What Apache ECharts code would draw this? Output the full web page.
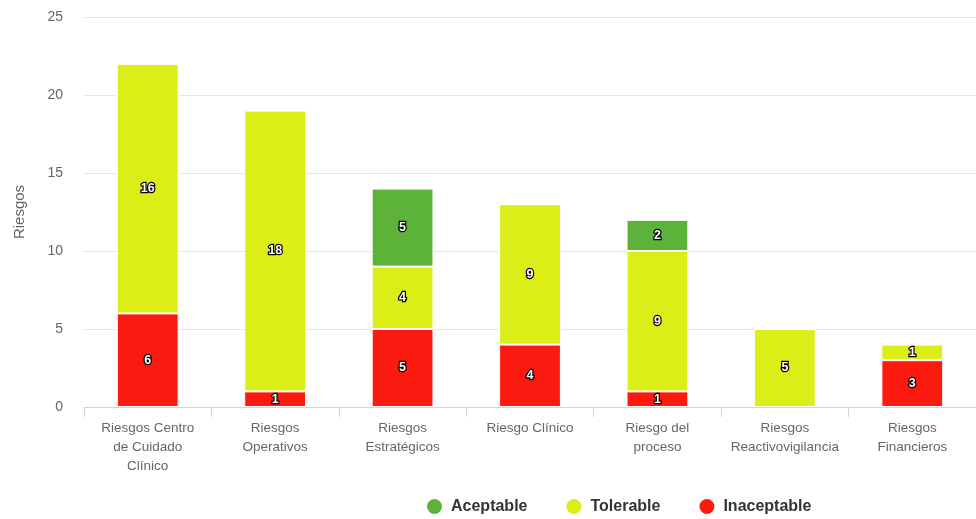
<!DOCTYPE html>
<html>
<head>
<meta charset="utf-8">
<script src="https://cdn.jsdelivr.net/npm/echarts@6/dist/echarts.min.js"></script>
<style>html,body{margin:0;padding:0;background:#fff}#c{width:976px;height:519px}</style>
</head>
<body>
<div id="c"></div>
<script>
var categories = [
  "Riesgos Centro\nde Cuidado\nClínico",
  "Riesgos\nOperativos",
  "Riesgos\nEstratégicos",
  "Riesgo Clínico",
  "Riesgo del\nproceso",
  "Riesgos\nReactivovigilancia",
  "Riesgos\nFinancieros"
];
var inaceptable = [6, 1, 5, 4, 1, null, 3];
var tolerable   = [16, 18, 4, 9, 9, 5, 1];
var aceptable   = [null, null, 5, null, 2, null, null];
var yTicks = { min: 0, max: 25, interval: 5 };

var FONT = '"Liberation Sans", Arial, Helvetica, sans-serif';
var labelStyle = {
  show: true, position: 'inside', color: '#fff', fontFamily: FONT,
  fontSize: 12.5, fontWeight: 'bold', textBorderColor: '#000', textBorderWidth: 2.5
};
function mk(name, data, color) {
  return {
    name: name, type: 'bar', stack: 'total', data: data, barWidth: '48.5%',
    itemStyle: { color: color, borderColor: '#fff', borderWidth: 1 },
    label: labelStyle
  };
}
var chart = echarts.init(document.getElementById('c'), null, { renderer: 'canvas' });
chart.setOption({
  animation: false,
  textStyle: { fontFamily: FONT },
  grid: { left: 84, right: 0, top: 17, bottom: 112, containLabel: false },
  legend: {
    data: ['Aceptable', 'Tolerable', 'Inaceptable'],
    left: 420, top: 492, icon: 'circle', itemWidth: 17, itemHeight: 17, itemGap: 37,
    textStyle: { fontSize: 16, fontWeight: 'bold', color: '#333', fontFamily: FONT, padding: [0, 0, 0, 3] }
  },
  xAxis: {
    type: 'category', data: categories,
    axisLine: { lineStyle: { color: '#ccd6eb' } },
    axisTick: { show: true, length: 10, lineStyle: { color: '#ccd6eb' } },
    axisLabel: { color: '#666', fontSize: 13.5, lineHeight: 19, margin: 12, interval: 0, fontFamily: FONT }
  },
  yAxis: {
    type: 'value', min: yTicks.min, max: yTicks.max, interval: yTicks.interval,
    name: 'Riesgos', nameLocation: 'middle', nameGap: 57, nameRotate: 90,
    nameTextStyle: { color: '#666', fontSize: 15, fontFamily: FONT },
    axisLabel: { color: '#666', fontSize: 14, margin: 21, fontFamily: FONT },
    splitLine: { lineStyle: { color: '#e6e6e6' } },
    axisLine: { show: false }, axisTick: { show: false }
  },
  series: [
    mk('Inaceptable', inaceptable, '#fb1a10'),
    mk('Tolerable', tolerable, '#dcee18'),
    mk('Aceptable', aceptable, '#5db33a')
  ]
});
</script>
</body>
</html>
